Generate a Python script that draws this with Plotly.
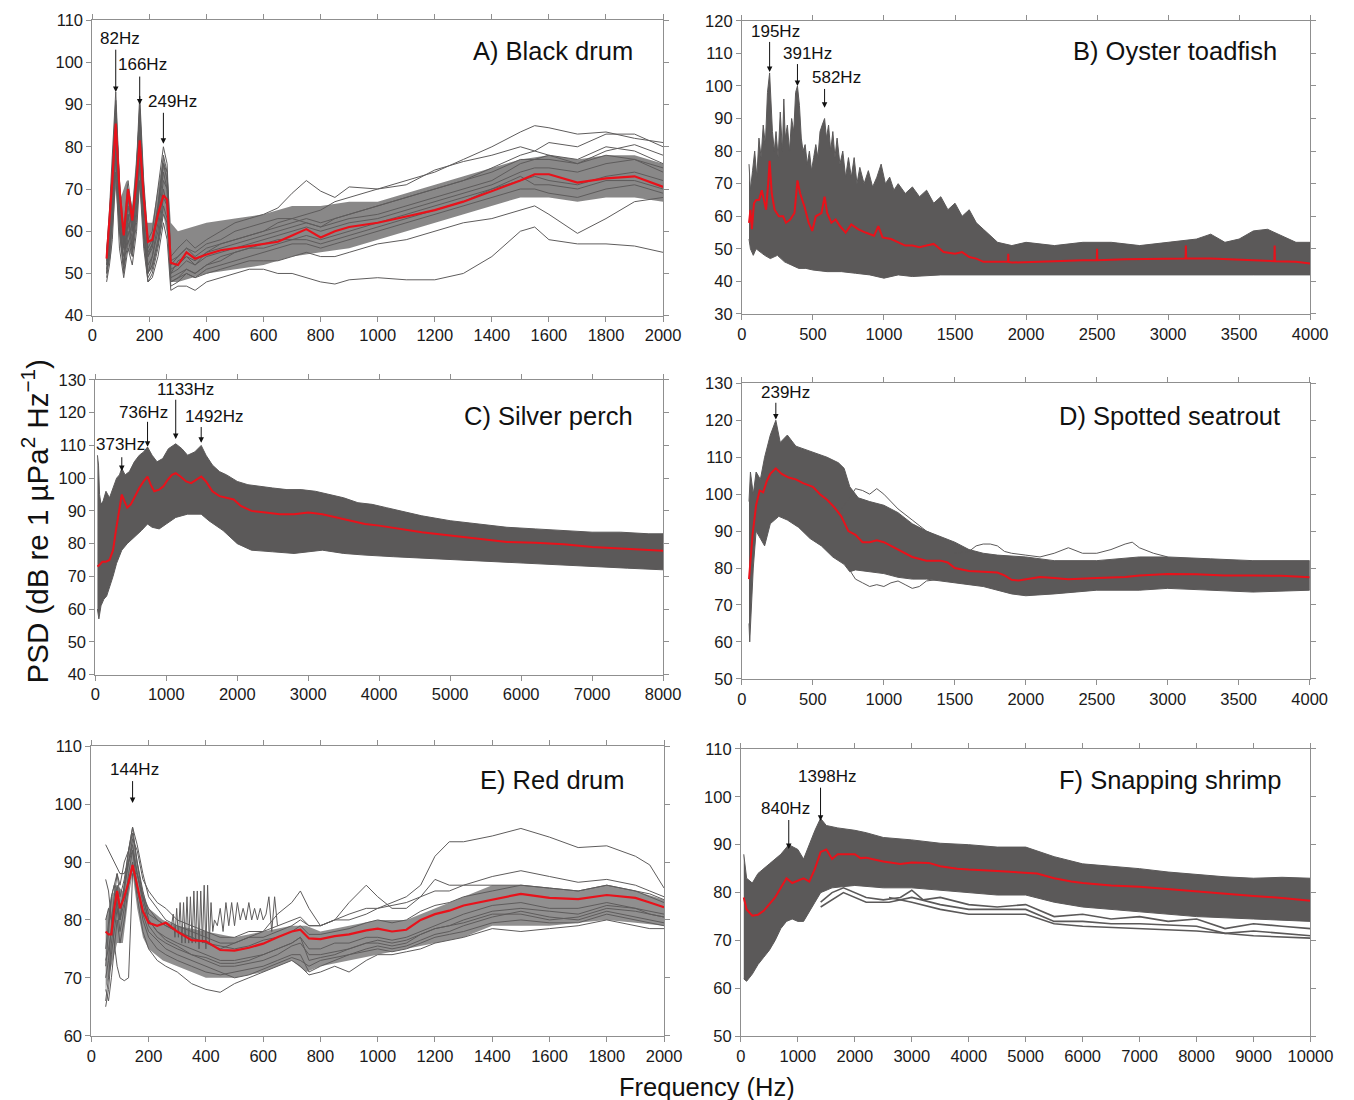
import plotly.graph_objects as go

# ---------------- Panel A: Black drum ----------------
a_freq = [50, 60, 70, 82, 95, 110, 125, 140, 155, 166, 180, 195, 210, 230, 249, 262, 275, 300, 330, 360,
          400, 450, 500, 550, 600, 650, 700, 750, 800, 850, 900, 1000, 1100, 1200, 1300, 1400, 1500, 1550,
          1600, 1700, 1800, 1900, 2000]
a_mean = [53.5, 62, 72, 85.5, 70, 59, 70, 62.5, 72, 81.5, 68, 57.5, 58, 64, 68.5, 67.5, 52.5, 52, 55, 53.5,
          54.5, 55.5, 56, 56.5, 57, 57.5, 59, 60.5, 58.5, 60, 61, 62, 63.5, 65, 67, 69.5, 72, 73.5,
          73.5, 71.5, 72.5, 73, 70.5]
a_g1 = [55, 65, 78, 93, 72, 60, 72, 64, 76, 92, 72, 58, 60, 70, 80, 76, 54, 56, 58, 56, 58, 60, 62, 63, 64, 65.5,
        69, 72, 69.5, 68, 70.5, 70, 72, 74, 77, 80, 83.5, 85, 84.5, 83, 83.5, 82, 81]
a_g2 = [52, 60, 70, 88, 66, 56, 68, 60, 74, 88, 66, 54, 57, 66, 76, 74, 52, 54, 56, 55, 57, 58, 60, 61, 62, 63,
        63, 64, 65, 67, 68, 70, 71, 74.5, 76.5, 78, 80, 79, 81, 80, 83, 83, 80]
a_g3 = [50, 58, 68, 84, 64, 52, 64, 56, 70, 84, 62, 50, 54, 62, 72, 70, 50, 53, 54, 53, 55, 57, 58, 59, 60, 62,
        63, 62, 61, 63, 64, 66, 68, 70, 72, 75, 78, 79, 78, 77, 80, 79, 76]
a_g4 = [54, 62, 74, 90, 70, 58, 70, 62, 74, 90, 70, 56, 58, 66, 78, 74, 50, 51, 53, 52, 54, 55, 56, 57, 58, 59,
        60, 61, 60, 61, 62, 63, 65, 67, 69, 71, 74, 75, 75, 74, 76, 77, 75]
a_g5 = [51, 56, 64, 80, 62, 52, 62, 56, 66, 80, 60, 50, 52, 58, 68, 66, 49, 50, 51, 50, 52, 53, 55, 56, 57, 58,
        58, 59, 58, 59, 60, 62, 64, 66, 68, 70, 72, 73, 72, 71, 73, 74, 72]
a_g6 = [49, 54, 62, 78, 60, 50, 58, 54, 62, 76, 58, 48, 50, 56, 64, 62, 47, 48, 50, 49, 51, 52, 53, 54, 55, 56,
        57, 57, 56, 57, 58, 60, 62, 64, 66, 68, 70, 70, 69, 68, 70, 71, 69]
a_g7 = [52, 58, 66, 82, 64, 54, 64, 58, 68, 82, 62, 52, 54, 60, 70, 66, 48, 49, 50, 49, 50, 51, 52, 53, 53, 53,
        54, 55, 54, 54, 55, 57, 58, 60, 62, 63, 65, 66, 64, 59.5, 63, 67, 68]
a_g8 = [48, 52, 58, 74, 56, 49, 56, 52, 60, 72, 56, 48, 49, 54, 62, 58, 46, 47, 47, 46, 48, 49, 50, 51, 51, 50,
        50, 49, 48, 47.5, 48.5, 49, 48.5, 48.5, 50, 54, 60, 61, 58, 57, 57, 56.5, 55]
a_g9 = [53, 60, 72, 88, 68, 56, 66, 60, 72, 86, 66, 54, 56, 64, 74, 70, 51, 52, 54, 52, 55, 56, 57, 58, 59, 60,
        61, 62, 61, 62, 63, 64, 66, 68, 70, 72, 76, 77, 77, 76, 78, 77, 74]
a_g10 = [50, 55, 63, 79, 61, 51, 60, 55, 64, 78, 60, 49, 51, 57, 66, 63, 48, 49, 51, 50, 52, 54, 55, 56, 56, 57,
         58, 58, 57, 58, 59, 61, 63, 65, 67, 70, 73, 71, 71, 70, 72, 72, 70]
a_g11 = [55, 63, 75, 91, 71, 57, 69, 61, 75, 89, 69, 55, 57, 65, 76, 72, 53, 54, 56, 54, 56, 57, 58, 59, 60, 61,
         62, 63, 62, 63, 64, 66, 68, 70, 72, 74, 77, 77, 78, 76, 79, 80.5, 78]
# dense core of the black-drum spectra
a_core_x = [50, 65, 82, 100, 120, 140, 166, 190, 210, 235, 249, 265, 275, 300, 350, 400, 500, 600, 700, 800,
            900, 1000, 1100, 1200, 1300, 1400, 1500, 1600, 1700, 1800, 1900, 2000]
a_core_up = [56, 70, 90, 68, 72, 66, 88, 62, 62, 72, 78, 72, 62, 60, 61, 62, 63, 64, 66, 66,
             67, 67, 69, 71, 73, 75, 77, 78, 77, 78, 78, 76]
a_core_lo = [50, 54, 70, 55, 56, 54, 70, 50, 51, 58, 64, 58, 48, 48, 49, 50, 51, 52, 54, 55,
             56, 58, 60, 62, 64, 66, 68, 68, 67, 68, 68, 67]

# ---------------- Panel B: Oyster toadfish ----------------
b_up_x = [50, 60, 75, 90, 105, 120, 135, 150, 165, 180,
          195, 205, 215, 228, 240, 255, 270, 285, 295, 305,
          320, 335, 350, 365, 378, 391, 405, 418, 430, 445,
          460, 475, 490, 505, 520, 535, 550, 565, 582, 595,
          610, 625, 640, 655, 670, 690, 710, 730, 750, 770,
          790, 810, 830, 860, 890, 920, 950, 980, 1010, 1040,
          1070, 1100, 1150, 1200, 1250, 1300, 1350, 1400, 1450, 1500,
          1550, 1600, 1650, 1700, 1750, 1800, 1900, 2000, 2200, 2400,
          2600, 2800, 3000, 3200, 3300, 3400, 3500, 3600, 3700, 3800,
          3900, 4000]
b_up_y = [76, 68, 74, 80, 72, 84, 78, 88, 82, 98,
          104, 94, 86, 80, 86, 78, 92, 80, 96, 84,
          88, 80, 90, 86, 98, 100, 94, 84, 80, 82,
          76, 80, 74, 78, 82, 78, 86, 88, 90, 84,
          88, 80, 86, 78, 84, 76, 80, 72, 78, 72,
          78, 70, 75, 70, 74, 69, 72, 76, 70, 72,
          68, 70, 67, 69, 66, 68, 64, 66, 62, 64,
          60, 62, 58, 56, 54, 52, 51, 52, 51, 52,
          52, 51, 52, 53, 54.5, 52, 53, 55.5, 56, 54,
          52, 52]
b_lo_x = [50, 60, 80, 100, 130, 160, 200, 250, 300, 350, 400, 450, 500, 600, 700, 800, 900, 1000, 1100, 1200,
          1400, 1600, 1800, 2000, 2400, 2800, 3200, 3600, 4000]
b_lo_y = [53, 50, 48, 50, 49, 48, 47, 48, 46, 45, 44, 44, 43.5, 43, 43, 42.5, 42, 41, 42, 41.5,
          42, 42, 42, 42, 42, 42, 42, 42, 42]
b_mean_x = [50, 60, 70, 85, 100, 120, 140, 150, 170, 185,
            195, 210, 230, 260, 290, 310, 340, 370, 391, 410,
            440, 470, 495, 520, 560, 582, 600, 630, 660, 690,
            730, 770, 820, 870, 930, 960, 990, 1050, 1100, 1150,
            1200, 1250, 1300, 1350, 1380, 1420, 1500, 1550, 1600, 1650,
            1700, 1800, 1873, 1875, 1877, 1900, 2000, 2200, 2400, 2498,
            2500, 2502, 2700, 2900, 3100, 3123, 3125, 3127, 3300, 3500,
            3700, 3748, 3750, 3752, 3900, 4000]
b_mean_y = [58, 62, 56, 64, 65, 65, 68, 66, 62, 70,
            77, 67, 62, 60, 60, 58, 59, 61, 71, 67,
            63, 58, 55.5, 60, 61, 66, 61, 58, 59, 57,
            55, 57.5, 56, 55, 54, 57, 53.5, 53, 52, 51,
            51, 50.5, 51, 51.5, 50.5, 49, 48.5, 49, 47.5, 47,
            46, 46, 46, 48.5, 46, 45.8, 46, 46.2, 46.5, 46.5,
            50, 46.5, 46.8, 47, 47, 47, 51, 47, 47, 46.7,
            46.3, 46.2, 51, 46.2, 46, 45.5]

# ---------------- Panel C: Silver perch ----------------
c_up_x = [30, 45, 60, 80, 110, 150, 200, 250, 300, 340, 373, 420, 480, 550, 620, 680, 736, 800, 870, 950,
          1030, 1133, 1220, 1300, 1400, 1492, 1560, 1650, 1750, 1850, 2000, 2150, 2300, 2500, 2700, 2900,
          3100, 3300, 3500, 3700, 3900, 4100, 4300, 4600, 5000, 5400, 5800, 6200, 6600, 7000, 7400, 7800, 8000]
c_up_y = [107, 104, 95, 92, 93, 96, 94, 97, 100, 101, 103, 101, 102, 105, 107, 108, 109.5, 107, 105, 106,
          109, 110.5, 109, 107, 108, 110, 107, 104, 102, 101, 99, 98, 97.5, 97, 96.5, 96.5,
          96, 95, 94, 92.5, 92, 91, 90, 88.5, 87, 86, 85, 84.5, 84, 83.5, 83.5, 83, 83]
c_lo_x = [30, 50, 80, 120, 160, 200, 250, 300, 373, 450, 550, 650, 736, 800, 900, 1000, 1133, 1300, 1492, 1600,
          1800, 2000, 2200, 2500, 2800, 3000, 3200, 3500, 3800, 4200, 4600, 5000, 5500, 6000, 6500, 7000, 7500, 8000]
c_lo_y = [60, 57, 61, 63, 64, 67, 70, 74, 78, 80, 82, 84, 86, 85, 84.5, 86, 88, 89, 89, 87,
          84, 80, 78, 77.5, 77, 77.5, 78, 77, 76.5, 76, 75.5, 75, 74.5, 74, 73.5, 73, 72.5, 72]
c_mean_x = [30, 60, 100, 150, 200, 250, 290, 330, 373, 410, 450, 500, 560, 620, 680, 736, 780, 830, 900, 960,
            1020, 1080, 1133, 1200, 1280, 1350, 1420, 1492, 1560, 1650, 1750, 1850, 1950, 2050, 2200, 2400,
            2600, 2800, 3000, 3200, 3400, 3600, 3800, 4000, 4300, 4600, 5000, 5400, 5800, 6200, 6600, 7000,
            7500, 8000]
c_mean_y = [73, 73.5, 74.5, 74.5, 75, 78, 84, 89, 95, 93, 91, 92, 94.5, 97, 99, 100.5, 98, 96, 96.5, 97.5,
            99.5, 101, 101.5, 100.5, 99, 98.5, 99.5, 100.5, 99, 96, 94.5, 94, 93.5, 91.5, 90, 89.5,
            89, 89, 89.5, 89, 88, 87, 86, 85.5, 84.5, 83.5, 82.5, 81.5, 80.5, 80.3, 79.8, 79,
            78.3, 77.8]

# ---------------- Panel D: Spotted seatrout ----------------
d_up_x = [50, 60, 80, 100, 130, 160, 200, 239, 270, 320, 380, 450, 520, 600, 680, 720, 760, 820, 900, 1000,
          1100, 1200, 1300, 1400, 1500, 1600, 1700, 1800, 2000, 2200, 2500, 2800, 3000, 3300, 3600, 4000]
d_up_y = [98, 106, 100, 106, 104, 110, 116, 120, 114, 116, 113, 112, 111, 110, 108.5, 107, 102, 99, 98, 97,
          95, 92, 90, 88.5, 87, 85, 84, 83.5, 83, 82, 82, 83, 83, 82.5, 82, 82]
d_lo_x = [50, 55, 65, 80, 100, 130, 160, 200, 260, 320, 400, 480, 560, 640, 720, 760, 800, 900, 1000, 1100,
          1200, 1300, 1400, 1500, 1600, 1700, 1800, 1900, 2000, 2200, 2500, 2800, 3000, 3300, 3600, 4000]
d_lo_y = [65, 60, 68, 80, 90, 88, 86, 92, 94, 93, 91, 88, 86, 83, 81, 79, 79.5, 79, 78.5, 77.5,
          77, 77, 76.5, 76, 75.5, 75, 74, 73, 72.5, 73, 74, 74, 74.5, 74, 73.5, 74]
d_o1_x = [700, 760, 800, 850, 900, 950, 1000, 1050, 1100, 1200, 1300, 1400]
d_o1_y = [96, 99, 101.5, 101, 100, 101.5, 100, 98, 96, 93, 90, 88]
d_o2_x = [750, 800, 850, 900, 950, 1000, 1050, 1100, 1150, 1200, 1250, 1300, 1400, 1500]
d_o2_y = [80, 77, 76, 75, 75.5, 75, 76, 76.5, 75.5, 74.5, 75, 76.5, 77, 77.5]
d_o3_x = [1500, 1600, 1650, 1700, 1750, 1800, 1850, 1900, 2000, 2100, 2200, 2300, 2400, 2500, 2600, 2700,
          2750, 2800, 2900, 3000]
d_o3_y = [84, 84.5, 86, 86.5, 86.5, 86, 84.5, 84, 83.5, 83, 84, 85.5, 84, 84, 85, 86.5, 87, 85.5, 84, 83]
d_mean_x = [50, 60, 75, 100, 125, 150, 175, 200, 239, 280, 330, 380, 430, 500, 550, 600, 650, 700, 750, 800,
            850, 900, 950, 1000, 1100, 1200, 1300, 1400, 1450, 1500, 1600, 1700, 1800, 1850, 1900, 1950,
            2000, 2100, 2200, 2300, 2500, 2700, 2800, 3000, 3200, 3400, 3600, 3800, 4000]
d_mean_y = [77, 82, 89, 97, 101, 100.5, 103.5, 105.5, 107, 105.5, 104.5, 104, 103, 102, 100, 98.5, 96.5, 94,
            90, 89, 87, 87, 87.5, 87, 85, 83, 82, 82, 81.5, 80, 79.2, 79, 78.8, 78, 76.8, 76.6,
            77, 77.6, 77.3, 77, 77.3, 77.6, 78, 78.4, 78.3, 78, 78, 77.9, 77.5]

# ---------------- Panel E: Red drum ----------------
e_freq = [50, 60, 70, 80, 90, 100, 115, 130, 144, 160, 180, 200, 230, 260, 300, 350, 400, 450, 500, 550,
          600, 650, 700, 730, 760, 800, 850, 900, 960, 1000, 1050, 1100, 1150, 1200, 1250, 1300, 1400,
          1500, 1600, 1700, 1800, 1900, 1950, 2000]
e_mean = [78, 77.5, 77.5, 82, 85, 82, 84, 86.5, 89.5, 86, 81.5, 79.5, 79, 79.5, 78, 76.5, 76.3, 74.8, 74.7,
          75.2, 75.9, 77, 78, 78.3, 76.8, 76.7, 77.2, 77.5, 78.2, 78.5, 78, 78.3, 80, 81, 81.6, 82.5, 83.5,
          84.5, 83.8, 83.6, 84.3, 83.8, 83, 82.2]
e_g1 = [87, 85, 80, 84, 88, 86, 90, 92, 96, 93, 88, 84, 82, 80, 79, 78, 77, 76, 76, 77, 77, 78, 79, 80, 79,
        79, 80, 80, 81, 82, 83, 84, 86, 91, 93.5, 93.5, 94.5, 95.8, 94.3, 92.5, 92.8, 91, 89.5, 85.5]
e_g2 = [93, 92, 91, 90, 89, 88, 88, 90, 94, 92, 87, 85, 83, 82, 80, 79, 78, 77, 77, 78, 78, 79, 80, 80.5,
        79, 79, 80, 81, 82, 82, 82.5, 83, 84, 85, 85, 86, 87.5, 88.5, 87.5, 86.5, 87, 86, 85, 84]
e_g3 = [72, 78, 84, 86, 82, 80, 86, 90, 92, 88, 84, 82, 80, 79, 78, 77, 76, 75, 76, 77, 78, 81, 83, 85, 82,
        79, 80, 83, 86, 84, 82, 82, 84, 87, 86, 86, 86, 86, 85.5, 85, 86, 85, 84, 83]
e_g4 = [66, 70, 76, 80, 84, 80, 86, 92, 96, 90, 84, 80, 78, 77, 76, 75, 74, 73, 73, 73.5, 74, 75, 76, 77,
        75, 75, 76, 76, 77, 77, 76.5, 77, 78, 79, 80, 81, 82.5, 83, 82, 82, 83, 82, 81.5, 81]
e_g5 = [65, 68, 74, 78, 82, 78, 82, 88, 92, 86, 80, 77, 75, 74, 73, 72, 71, 70.5, 71, 71.5, 72, 73, 74, 74,
        71, 72, 73, 74, 75, 75.5, 75, 75.5, 76.5, 77.5, 78, 79, 80.5, 81.5, 80.5, 80, 81.5, 80.5, 80, 79.5]
e_g6 = [68, 66, 70, 75, 80, 76, 80, 86, 90, 84, 78, 75, 73, 72, 71, 69, 68, 67.5, 69, 70, 71, 72, 73, 72,
        70.5, 71, 72, 71, 73, 74, 74, 74.5, 75, 76, 76.5, 77, 78.5, 78, 78.5, 79, 80, 79, 78.5, 78.5]
e_g7 = [70, 73, 79, 83, 86, 82, 85, 90, 93, 88, 83, 79, 77, 76, 75, 74, 73, 72, 72, 72.5, 73, 74, 75.5, 76,
        74, 74, 74.5, 75, 76, 76, 75.5, 76, 77.5, 78.5, 79, 80, 81.5, 82, 81.5, 81, 82.5, 82, 81, 80.5]
e_g8 = [75, 80, 84, 86, 88, 84, 87, 92, 95, 90, 85, 81, 80, 79, 78, 77, 76, 75.5, 75, 75.5, 76.5, 77, 78, 79,
        77.5, 77.5, 78, 78.5, 79.5, 80, 79.5, 80, 81.5, 82.5, 83, 84, 85, 86, 85.5, 85, 86, 85, 84.5, 83.5]
e_g9 = [73, 75, 78, 80, 83, 80, 83, 86, 89, 85, 81, 78, 76.5, 75, 74, 73, 72, 71, 70, 70.5, 71.5, 72.5, 73.5,
        73, 72, 73, 73.5, 74, 74.5, 75, 74.5, 75, 76, 77, 77.5, 78, 79.5, 80, 79.5, 79.5, 81, 80, 79.5, 79]
e_g10 = [80, 82, 80, 76, 72, 70, 69.5, 70, 88, 88, 84, 80, 78, 76.5, 75.5, 74, 73.5, 72.5, 72.5, 73, 74, 75,
         76, 77, 73, 73.5, 74, 75, 76, 76.5, 76, 76.5, 77.5, 78.5, 79, 79.5, 81, 81, 80, 80.5, 82, 81.5, 81, 80.5]
e_osc_x = [280, 286, 292, 298, 304, 310, 316, 322, 328, 334, 340, 346, 352, 358, 364, 370, 376, 382, 388, 394,
           400, 406, 412, 418, 424, 430, 440, 450, 460, 470, 480, 490, 500, 510, 520, 530, 540, 550, 560, 570,
           580, 590, 600, 610, 620, 630, 640, 650]
e_osc_y = [79, 81, 77, 82, 77, 83, 76, 83, 76, 84, 76, 84, 76, 85, 76, 85, 75, 85, 76, 86,
           75, 86, 76, 83, 78, 80, 79, 82, 78, 83, 79, 83, 79, 83, 80, 82, 80, 83, 80, 82,
           80, 82, 80, 81, 84, 78, 84, 79]
# dense core of the red-drum spectra
e_core_x = [50, 70, 90, 110, 130, 144, 160, 180, 200, 250, 300, 400, 500, 600, 700, 750, 800, 900, 1000, 1100,
            1200, 1300, 1400, 1500, 1600, 1700, 1800, 1900, 2000]
e_core_up = [80, 84, 86, 85, 92, 95, 90, 85, 82, 80, 79, 78, 77, 78, 79, 79, 78, 79, 80, 80,
             82, 84, 86, 86, 85.5, 85, 86, 85, 83.5]
e_core_lo = [68, 72, 76, 76, 84, 88, 82, 77, 75, 73, 72, 70, 70, 71, 73, 71, 72, 73, 74, 75,
             76, 77, 79, 79, 79, 79.5, 80, 79.5, 79]

# ---------------- Panel F: Snapping shrimp ----------------
f_up_x = [50, 100, 200, 300, 500, 700, 840, 1000, 1100, 1200, 1300, 1398, 1500, 1700, 2000, 2200, 2500, 3000,
          3500, 4000, 4500, 5000, 5500, 6000, 6500, 7000, 7500, 8000, 8500, 9000, 9500, 10000]
f_up_y = [88, 83, 82, 84, 86, 88, 90, 89, 87, 90, 93, 95.5, 94, 93.5, 93, 92.5, 91.5, 91,
          90.3, 90, 89.5, 89.5, 87.5, 86, 85.5, 85, 84.3, 83.8, 83.3, 83, 83.2, 83]
f_lo_x = [50, 100, 200, 300, 400, 500, 600, 700, 800, 900, 1000, 1100, 1200, 1300, 1400, 1600, 2000, 2500, 3000,
          3500, 4000, 4500, 5000, 5500, 6000, 7000, 8000, 9000, 10000]
f_lo_y = [62, 61.5, 63, 65, 66.5, 68, 70, 72.5, 74, 74.5, 74, 74, 76, 78, 80, 81, 81.5, 81, 81,
          80.5, 80, 79.5, 79.5, 78, 77, 76, 75, 74.5, 74]
f_s1_x = [1400, 1600, 1800, 2000, 2200, 2500, 2800, 3000, 3200, 3500, 4000, 4500, 5000, 5500, 6000, 6500, 7000,
          7500, 8000, 8500, 9000, 9500, 10000]
f_s1_y = [78, 80, 81, 80, 79, 78.5, 79, 80.5, 78.5, 79, 77.5, 77, 77.5, 75, 75.5, 74.5, 75, 74, 74.5, 72.5,
          73.5, 73, 72.5]
f_s2_x = [1400, 1800, 2200, 2600, 3000, 3500, 4000, 4500, 5000, 5500, 6000, 6500, 7000, 8000, 8500, 9000, 10000]
f_s2_y = [77, 80, 78, 78, 79, 77.5, 76.5, 76.5, 76.5, 74, 74, 73.5, 73.5, 73, 71.5, 72, 71]
f_s3_x = [2600, 3000, 3500, 4000, 5000, 5500, 6000, 7000, 8000, 9000, 10000]
f_s3_y = [79, 78, 76.5, 75.5, 75.5, 73.5, 73, 72.5, 72, 71, 70.5]
f_mean_x = [50, 100, 200, 300, 400, 500, 600, 700, 800, 900, 1000, 1100, 1200, 1300, 1400, 1500, 1600, 1700,
            1800, 2000, 2100, 2200, 2300, 2500, 2800, 3000, 3300, 3500, 3800, 4000, 4500, 5000, 5200, 5500,
            5800, 6000, 6500, 7000, 7500, 8000, 8500, 9000, 9500, 10000]
f_mean_y = [79, 76.5, 75.2, 75.4, 76.2, 77.5, 79, 81, 83, 82, 82.5, 83, 82.3, 85, 88.5, 89, 87, 88,
            88, 88, 87.2, 87.3, 87, 86.5, 86, 86.3, 86.2, 85.5, 85, 84.8, 84.5, 84.2, 84, 83,
            82.3, 82, 81.5, 81.2, 80.7, 80.2, 79.7, 79.3, 78.9, 78.3]

# ---------------- Peak labels ----------------
peak_freqs = {"A": [82, 166, 249], "B": [195, 391, 582], "C": [373, 736, 1133, 1492],
              "D": [239], "E": [144], "F": [840, 1398]}
peak_db = {"A": [93, 90, 80.7], "B": [104.3, 100, 93.3], "C": [102.2, 109.6, 112, 110.8],
           "D": [120.2], "E": [100.2], "F": [89.1, 95]}
panel_titles = ["A) Black drum", "B) Oyster toadfish", "C) Silver perch",
                "D) Spotted seatrout", "E) Red drum", "F) Snapping shrimp"]

# ---------------- styling / layout ----------------
GREY = "#5b5959"
LGREY = "#5e5c5c"
RED = "#e8121b"
FONT = "Liberation Sans, Arial, Helvetica, sans-serif"

W, H = 1354, 1100
# the page is photographed slightly scaled; map target pixels to layout fractions
OX, SX, OY, SY = 8.0, 0.9875, 16.2, 0.984


def fx(px):
    return (px - OX) / SX / W


def fy(py):
    return 1 - (py - OY) / SY / H


fig = go.Figure()


def line(x, y, ax, color=LGREY, width=1):
    fig.add_trace(go.Scatter(x=x, y=y, mode="lines", line=dict(color=color, width=width),
                             xaxis="x" + ax, yaxis="y" + ax, hoverinfo="skip", showlegend=False))


def band(xu, yu, xl, yl, ax, color=GREY, lw=1):
    fig.add_trace(go.Scatter(x=xu + xl[::-1], y=yu + yl[::-1], mode="lines", fill="toself",
                             fillcolor=color, line=dict(color=color, width=lw),
                             xaxis="x" + ax, yaxis="y" + ax, hoverinfo="skip", showlegend=False))


# A
band(a_core_x, a_core_up, a_core_x, a_core_lo, "", "rgba(92,90,90,0.72)", 0)
for g in [a_g1, a_g2, a_g3, a_g4, a_g5, a_g6, a_g7, a_g8, a_g9, a_g10, a_g11]:
    line(a_freq, g, "")
line(a_freq, a_mean, "", RED, 2.2)
# B
band(b_up_x, b_up_y, b_lo_x, b_lo_y, "2")
line(b_mean_x, b_mean_y, "2", RED, 2)
# C
band(c_up_x, c_up_y, c_lo_x, c_lo_y, "3")
line(c_mean_x, c_mean_y, "3", RED, 2)
# D
band(d_up_x, d_up_y, d_lo_x, d_lo_y, "4")
line(d_o1_x, d_o1_y, "4", GREY, 1)
line(d_o2_x, d_o2_y, "4", GREY, 1)
line(d_o3_x, d_o3_y, "4", GREY, 1)
line(d_mean_x, d_mean_y, "4", RED, 2)
# E
band(e_core_x, e_core_up, e_core_x, e_core_lo, "5", "rgba(92,90,90,0.68)", 0)
for g in [e_g1, e_g2, e_g3, e_g4, e_g5, e_g6, e_g7, e_g8, e_g9, e_g10]:
    line(e_freq, g, "5")
line(e_osc_x, e_osc_y, "5")
line(e_freq, e_mean, "5", RED, 2.2)
# F
band(f_up_x, f_up_y, f_lo_x, f_lo_y, "6")
line(f_s1_x, f_s1_y, "6", GREY, 1.6)
line(f_s2_x, f_s2_y, "6", GREY, 1.6)
line(f_s3_x, f_s3_y, "6", GREY, 1.6)
line(f_mean_x, f_mean_y, "6", RED, 2)

# target pixel boxes of the six plot areas: (left, right, top, bottom)
boxes = {"": (88, 663.5, 19.3, 315), "2": (743, 1316, 20, 313.3), "3": (91, 663.5, 379.3, 674),
         "4": (743, 1315.5, 382.7, 678.3), "5": (87, 664.5, 745.7, 1035.3), "6": (742, 1316.3, 748.3, 1036)}
ranges = {"": ([0, 2000], [40, 110], 200), "2": ([0, 4000], [30, 120], 500), "3": ([0, 8000], [40, 130], 1000),
          "4": ([0, 4000], [50, 130], 500), "5": ([0, 2000], [60, 110], 200), "6": ([0, 10000], [50, 110], 1000)}

layout = dict(width=W, height=H, margin=dict(l=0, r=0, t=0, b=0), paper_bgcolor="white",
              plot_bgcolor="white", showlegend=False, font=dict(family=FONT, color="#111"))
for k, (l, r, t, b) in boxes.items():
    xr, yr, dt = ranges[k]
    common = dict(showline=True, mirror="ticks", linecolor="#8f8f8f", linewidth=1, ticks="outside",
                  ticklen=5, tickcolor="#8f8f8f", showgrid=False, zeroline=False,
                  tickfont=dict(family=FONT, size=16.5, color="#1a1a1a"))
    layout["xaxis" + k] = dict(domain=[fx(l), fx(r)], range=xr, dtick=dt, tick0=0, tickformat="d",
                               anchor="y" + k, **common)
    layout["yaxis" + k] = dict(domain=[fy(b), fy(t)], range=yr, dtick=10, tick0=0,
                               anchor="x" + k, **common)

ann = []
# arrow geometry in target pixels: (arrow length, text dx, text dy)
arrow_px = {"A": [(43, 4, 53), (29, 3, 39), (32, 9, 42)],
            "B": [(31, 6, 40), (23, 10, 32), (20, 12, 30)],
            "C": [(15, -1, 26), (26, -4, 34), (40, 10, 49), (17, 13, 26)],
            "D": [(18, 10, 27)], "E": [(23, 2, 33)], "F": [(30, -3, 40), (34, 7, 44)]}
axmap = {"A": "", "B": "2", "C": "3", "D": "4", "E": "5", "F": "6"}
for p, freqs in peak_freqs.items():
    k = axmap[p]
    for f, db, (L, dx, dy) in zip(freqs, peak_db[p], arrow_px[p]):
        ann.append(dict(x=f, y=db, xref="x" + k, yref="y" + k, text="", showarrow=True,
                        ax=0, ay=-L / SY, arrowhead=2, arrowsize=1.1, arrowwidth=1, arrowcolor="#111"))
        ann.append(dict(x=f, y=db, xref="x" + k, yref="y" + k, text=f"{f}Hz", showarrow=False,
                        xshift=dx / SX, yshift=dy / SY, font=dict(family=FONT, size=17, color="#111")))

title_pos = [(635, 50), (1285, 50), (635, 415), (1288, 415), (627, 779), (1290, 779)]
for t, (px, py) in zip(panel_titles, title_pos):
    ann.append(dict(x=fx(px), y=fy(py), xref="paper", yref="paper", text=t, showarrow=False,
                    xanchor="right", yanchor="middle", font=dict(family=FONT, size=25.5, color="#111")))

ann.append(dict(x=fx(30), y=fy(521), xref="paper", yref="paper", textangle=-90, showarrow=False,
                text="PSD (dB re 1 µPa<sup>2</sup> Hz<sup>−1</sup>)", xanchor="center", yanchor="middle",
                font=dict(family=FONT, size=29.5, color="#111")))
ann.append(dict(x=fx(708), y=fy(1087), xref="paper", yref="paper", showarrow=False,
                text="Frequency (Hz)", xanchor="center", yanchor="middle",
                font=dict(family=FONT, size=25.5, color="#111")))
layout["annotations"] = ann
fig.update_layout(**layout)
fig.write_html("out.html")
